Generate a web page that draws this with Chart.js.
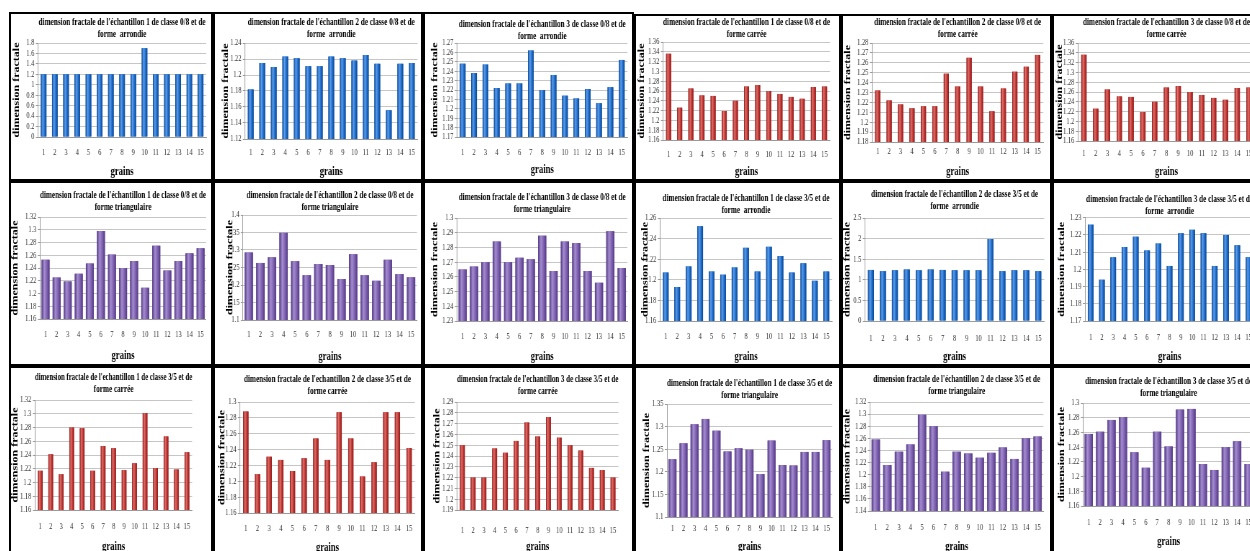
<!DOCTYPE html>
<html lang="fr">
<head>
    <meta charset="UTF-8">
    <title>Dimension fractale des grains</title>
    <script src="https://cdn.jsdelivr.net/npm/chart.js"></script>
    <style>
        html, body {
            margin: 0;
            padding: 0;
            width: 1250px;
            height: 551px;
            overflow: hidden;
            background: #fff;
        }
        .panel {
            position: absolute;
            box-sizing: border-box;
            border: 2px solid #000;
            background: #fff;
            overflow: hidden;
        }
        .panel canvas {
            position: absolute;
            left: 0;
            top: 0;
            transform-origin: 0 0;
        }
    </style>
</head>
<body>
<script>
    const grains = ['1', '2', '3', '4', '5', '6', '7', '8', '9', '10', '11', '12', '13', '14', '15'];

    // classe 0/8
    const arrondie08_1 = [1.2, 1.2, 1.2, 1.2, 1.2, 1.2, 1.2, 1.2, 1.2, 1.7, 1.2, 1.2, 1.2, 1.2, 1.2];
    const arrondie08_2 = [1.182, 1.215, 1.21, 1.223, 1.221, 1.211, 1.211, 1.223, 1.221, 1.218, 1.225, 1.214, 1.156, 1.214, 1.215];
    const arrondie08_3 = [1.248, 1.238, 1.247, 1.222, 1.227, 1.227, 1.262, 1.22, 1.236, 1.214, 1.211, 1.221, 1.206, 1.223, 1.252];
    const carree08_1 = [1.336, 1.226, 1.265, 1.251, 1.25, 1.219, 1.24, 1.269, 1.272, 1.26, 1.254, 1.248, 1.244, 1.268, 1.269];
    const carree08_2 = [1.232, 1.222, 1.218, 1.214, 1.216, 1.216, 1.249, 1.236, 1.265, 1.236, 1.211, 1.234, 1.251, 1.256, 1.268];
    const carree08_3 = [1.336, 1.226, 1.265, 1.251, 1.25, 1.219, 1.24, 1.269, 1.272, 1.26, 1.254, 1.248, 1.244, 1.268, 1.269];
    const triang08_1 = [1.253, 1.225, 1.219, 1.231, 1.247, 1.298, 1.261, 1.24, 1.251, 1.209, 1.275, 1.236, 1.251, 1.263, 1.271];
    const triang08_2 = [1.293, 1.263, 1.279, 1.349, 1.268, 1.228, 1.26, 1.257, 1.217, 1.288, 1.228, 1.212, 1.272, 1.231, 1.222];
    const triang08_3 = [1.265, 1.267, 1.27, 1.284, 1.27, 1.273, 1.272, 1.288, 1.264, 1.284, 1.283, 1.264, 1.256, 1.291, 1.266];

    // classe 3/5
    const arrondie35_1 = [1.207, 1.193, 1.213, 1.252, 1.208, 1.205, 1.212, 1.231, 1.208, 1.232, 1.223, 1.207, 1.216, 1.199, 1.208];
    const arrondie35_2 = [1.24, 1.21, 1.23, 1.25, 1.23, 1.25, 1.24, 1.23, 1.23, 1.23, 1.99, 1.21, 1.23, 1.23, 1.21];
    const arrondie35_3 = [1.226, 1.194, 1.207, 1.213, 1.219, 1.211, 1.215, 1.202, 1.221, 1.223, 1.221, 1.202, 1.22, 1.214, 1.207];
    const carree35_1 = [1.217, 1.241, 1.212, 1.28, 1.279, 1.217, 1.253, 1.25, 1.218, 1.228, 1.301, 1.221, 1.267, 1.219, 1.244];
    const carree35_2 = [1.288, 1.209, 1.231, 1.227, 1.213, 1.229, 1.254, 1.227, 1.287, 1.254, 1.206, 1.224, 1.287, 1.287, 1.242];
    const carree35_3 = [1.25, 1.22, 1.22, 1.247, 1.243, 1.254, 1.271, 1.258, 1.276, 1.257, 1.25, 1.245, 1.229, 1.227, 1.22];
    const triang35_1 = [1.228, 1.263, 1.305, 1.317, 1.291, 1.245, 1.252, 1.249, 1.195, 1.269, 1.215, 1.214, 1.244, 1.244, 1.27];
    const triang35_2 = [1.258, 1.216, 1.238, 1.25, 1.299, 1.28, 1.205, 1.238, 1.235, 1.228, 1.236, 1.245, 1.226, 1.26, 1.263];
    const triang35_3 = [1.258, 1.261, 1.277, 1.281, 1.233, 1.212, 1.261, 1.241, 1.291, 1.292, 1.217, 1.209, 1.24, 1.248, 1.217];

    // panels, row by row
    const series = [
        arrondie08_1, arrondie08_2, arrondie08_3, carree08_1, carree08_2, carree08_3,
        triang08_1, triang08_2, triang08_3, arrondie35_1, arrondie35_2, arrondie35_3,
        carree35_1, carree35_2, carree35_3, triang35_1, triang35_2, triang35_3
    ];
    const formes = [
        'arrondie', 'arrondie', 'arrondie', 'carree', 'carree', 'carree',
        'triangulaire', 'triangulaire', 'triangulaire', 'arrondie', 'arrondie', 'arrondie',
        'carree', 'carree', 'carree', 'triangulaire', 'triangulaire', 'triangulaire'
    ];
    const titres = [
        ["dimension fractale de l'échantillon 1 de classe 0/8 et de", 'forme  arrondie'],
        ["dimension fractale de l'échantillon 2 de classe 0/8 et de", 'forme  arrondie'],
        ["dimension fractale de l'échantillon 3 de classe 0/8 et de", 'forme  arrondie'],
        ["dimension fractale de l'echantillon 1 de classe 0/8 et de", 'forme carrée'],
        ["dimension fractale de l'echantillon 2 de classe 0/8 et de", 'forme carrée'],
        ["dimension fractale de l'echantillon 3 de classe 0/8 et de", 'forme carrée'],
        ["dimension fractale de l'échantillon 1 de classe 0/8 et de", 'forme triangulaire'],
        ["dimension fractale de l'échantillon 2 de classe 0/8 et de", 'forme triangulaire'],
        ["dimension fractale de l'échantillon 3 de classe 0/8 et de", 'forme triangulaire'],
        ["dimension fractale de l'échantillon 1 de classe 3/5 et de", 'forme  arrondie'],
        ["dimension fractale de l'échantillon 2 de classe 3/5 et de", 'forme  arrondie'],
        ["dimension fractale de l'échantillon 3 de classe 3/5 et de", 'forme  arrondie'],
        ["dimension fractale de l'echantillon 1 de classe 3/5 et de", 'forme carrée'],
        ["dimension fractale de l'echantillon 2 de classe 3/5 et de", 'forme carrée'],
        ["dimension fractale de l'echantillon 3 de classe 3/5 et de", 'forme carrée'],
        ["dimension fractale de l'échantillon 1 de classe 3/5 et de", 'forme triangulaire'],
        ["dimension fractale de l'échantillon 2 de classe 3/5 et de", 'forme triangulaire'],
        ["dimension fractale de l'échantillon 3 de classe 3/5 et de", 'forme triangulaire']
    ];
    const yMin = [0, 1.12, 1.17, 1.16, 1.18, 1.16, 1.16, 1.1, 1.23, 1.16, 0, 1.17, 1.16, 1.16, 1.19, 1.1, 1.14, 1.16];
    const yMax = [1.8, 1.24, 1.27, 1.36, 1.28, 1.36, 1.32, 1.4, 1.3, 1.26, 2.5, 1.23, 1.32, 1.3, 1.29, 1.35, 1.32, 1.3];
    const yStep = [0.2, 0.02, 0.01, 0.02, 0.01, 0.02, 0.02, 0.05, 0.01, 0.02, 0.5, 0.01, 0.02, 0.02, 0.01, 0.05, 0.02, 0.02];

    // where each panel sits on the page:
    // x, y, w, h, plot left, right, top, bottom, title line 1 y, y-title x, x labels y, "grains" y
    const frames = [
        [9, 12, 204, 169, 38, 208, 43, 137, 22, 17, 152, 173],
        [213, 12, 210, 169, 245, 418, 43, 139, 22, 226, 152, 173],
        [423, 12, 211, 169, 457, 628, 43, 137, 24, 435, 152, 170],
        [634, 14, 207, 167, 663, 830, 42, 140, 21, 642, 154, 172],
        [841, 14, 211, 167, 872, 1043, 43, 142, 21, 848, 151, 172],
        [1052, 14, 210, 167, 1078, 1255, 43, 141, 21, 1060, 153, 172],
        [9, 181, 204, 185, 40, 210, 217, 319, 195, 13, 334, 356],
        [213, 181, 210, 185, 243, 417, 215, 320, 195, 230, 334, 357],
        [423, 181, 211, 185, 457, 627, 218, 321, 197, 435, 336, 357],
        [634, 181, 207, 185, 660, 832, 218, 321, 198, 645, 336, 358],
        [841, 181, 211, 185, 865, 1045, 218, 321, 194, 846, 338, 357],
        [1052, 181, 210, 185, 1085, 1255, 217, 321, 199, 1062, 337, 357],
        [9, 366, 204, 194, 35, 192, 400, 510, 377, 14, 526, 547],
        [213, 366, 210, 194, 240, 415, 402, 513, 379, 222, 528, 548],
        [423, 366, 211, 194, 457, 618, 402, 510, 379, 437, 530, 547],
        [634, 366, 207, 194, 667, 832, 404, 517, 383, 647, 528, 547],
        [841, 366, 211, 194, 870, 1043, 402, 511, 379, 846, 527, 547],
        [1052, 366, 210, 194, 1083, 1255, 403, 506, 381, 1062, 522, 542]
    ];

    const palettes = {
        arrondie: { dark: '#0a4692', mid: '#1d6ac8', light: '#5a9ded', bar: 0.5 },
        carree: { dark: '#8a1b1b', mid: '#bf332f', light: '#e06e69', bar: 0.45 },
        triangulaire: { dark: '#533883', mid: '#7c5eae', light: '#a48dcf', bar: 0.72 }
    };

    // the source charts were squeezed sideways
    const S = 0.72;
    const SERIF = "'Liberation Serif', 'Times New Roman', serif";

    // paints the cylinder-like shading over every bar, inside the plot area
    const barShade = {
        id: 'barShade',
        afterDatasetsDraw(chart, args, opts) {
            const ctx = chart.ctx;
            const area = chart.chartArea;
            const meta = chart.getDatasetMeta(0);
            ctx.save();
            meta.data.forEach(bar => {
                const p = bar.getProps(['x', 'y', 'base', 'width'], true);
                const l = p.x - p.width / 2;
                const top = Math.max(area.top, Math.min(p.y, p.base));
                const bottom = Math.min(area.bottom, Math.max(p.y, p.base));
                if (bottom <= top) return;
                const g = ctx.createLinearGradient(l, 0, l + p.width, 0);
                g.addColorStop(0, opts.dark);
                g.addColorStop(0.35, opts.light);
                g.addColorStop(0.7, opts.mid);
                g.addColorStop(1, opts.dark);
                ctx.fillStyle = g;
                ctx.fillRect(l, top, p.width, bottom - top);
            });
            ctx.restore();
        }
    };

    function drawPanel(i) {
        const [x, y, w, h, pl, pr, pt, pb, t1, yt, xl, gy] = frames[i];
        const ox = x + 2, oy = y + 2;
        const iw = w - 4, ih = h - 4;
        const pal = palettes[formes[i]];

        const box = document.createElement('div');
        box.className = 'panel';
        box.style.left = x + 'px';
        box.style.top = y + 'px';
        box.style.width = w + 'px';
        box.style.height = h + 'px';
        const canvas = document.createElement('canvas');
        canvas.width = Math.round(iw / S);
        canvas.height = ih;
        canvas.style.transform = 'scaleX(' + S + ')';
        box.appendChild(canvas);
        document.body.appendChild(box);

        const titleLH = 12.5;
        const tTop = Math.max(0, t1 - oy - titleLH / 2);
        const tBottom = Math.max(0, pt - oy - tTop - 2 * titleLH);
        const yWidth = (pl - ox) / S;
        const xHeight = oy + ih - pb;
        const padRight = Math.max(0, (ox + iw - pr) / S);
        const yTitlePad = Math.max(0, (yt - ox) / S - 6);

        new Chart(canvas, {
            type: 'bar',
            data: {
                labels: grains,
                datasets: [{
                    data: series[i],
                    backgroundColor: pal.mid,
                    borderWidth: 0,
                    barPercentage: pal.bar,
                    categoryPercentage: 1
                }]
            },
            options: {
                responsive: false,
                animation: false,
                layout: { padding: { left: 0, right: padRight, top: 0, bottom: 0 } },
                plugins: {
                    legend: { display: false },
                    tooltip: { enabled: false },
                    title: {
                        display: true,
                        fullSize: false,
                        text: titres[i],
                        color: '#000',
                        font: { family: SERIF, size: 10, weight: 'bold', lineHeight: 1.25 },
                        padding: { top: tTop, bottom: tBottom }
                    },
                    barShade: pal
                },
                scales: {
                    x: {
                        grid: { display: false, drawTicks: false },
                        border: { color: '#9a9a9a' },
                        ticks: {
                            color: '#333',
                            font: { family: SERIF, size: 9 },
                            padding: Math.max(0, xl - pb - 5),
                            autoSkip: false,
                            maxRotation: 0
                        },
                        title: {
                            display: true,
                            text: 'grains',
                            color: '#000',
                            font: { family: SERIF, size: 12, weight: 'bold' },
                            padding: { top: 0, bottom: Math.max(0, oy + ih - gy - 7.2) }
                        },
                        afterFit: s => { s.height = xHeight; }
                    },
                    y: {
                        min: yMin[i],
                        max: yMax[i],
                        grid: { color: '#c6c6c6', tickLength: 3, tickColor: '#9a9a9a' },
                        border: { color: '#9a9a9a' },
                        ticks: {
                            stepSize: yStep[i],
                            color: '#333',
                            font: { family: SERIF, size: 9 },
                            padding: 2,
                            autoSkip: false,
                            callback: v => String(+v.toFixed(3))
                        },
                        title: {
                            display: true,
                            text: 'dimension fractale',
                            color: '#000',
                            font: { family: SERIF, size: 12, weight: 'bold', lineHeight: 1 },
                            padding: { top: yTitlePad, bottom: 0 }
                        },
                        afterFit: s => { s.width = yWidth; }
                    }
                }
            },
            plugins: [barShade]
        });
    }

    frames.forEach((f, i) => drawPanel(i));
</script>
</body>
</html>
